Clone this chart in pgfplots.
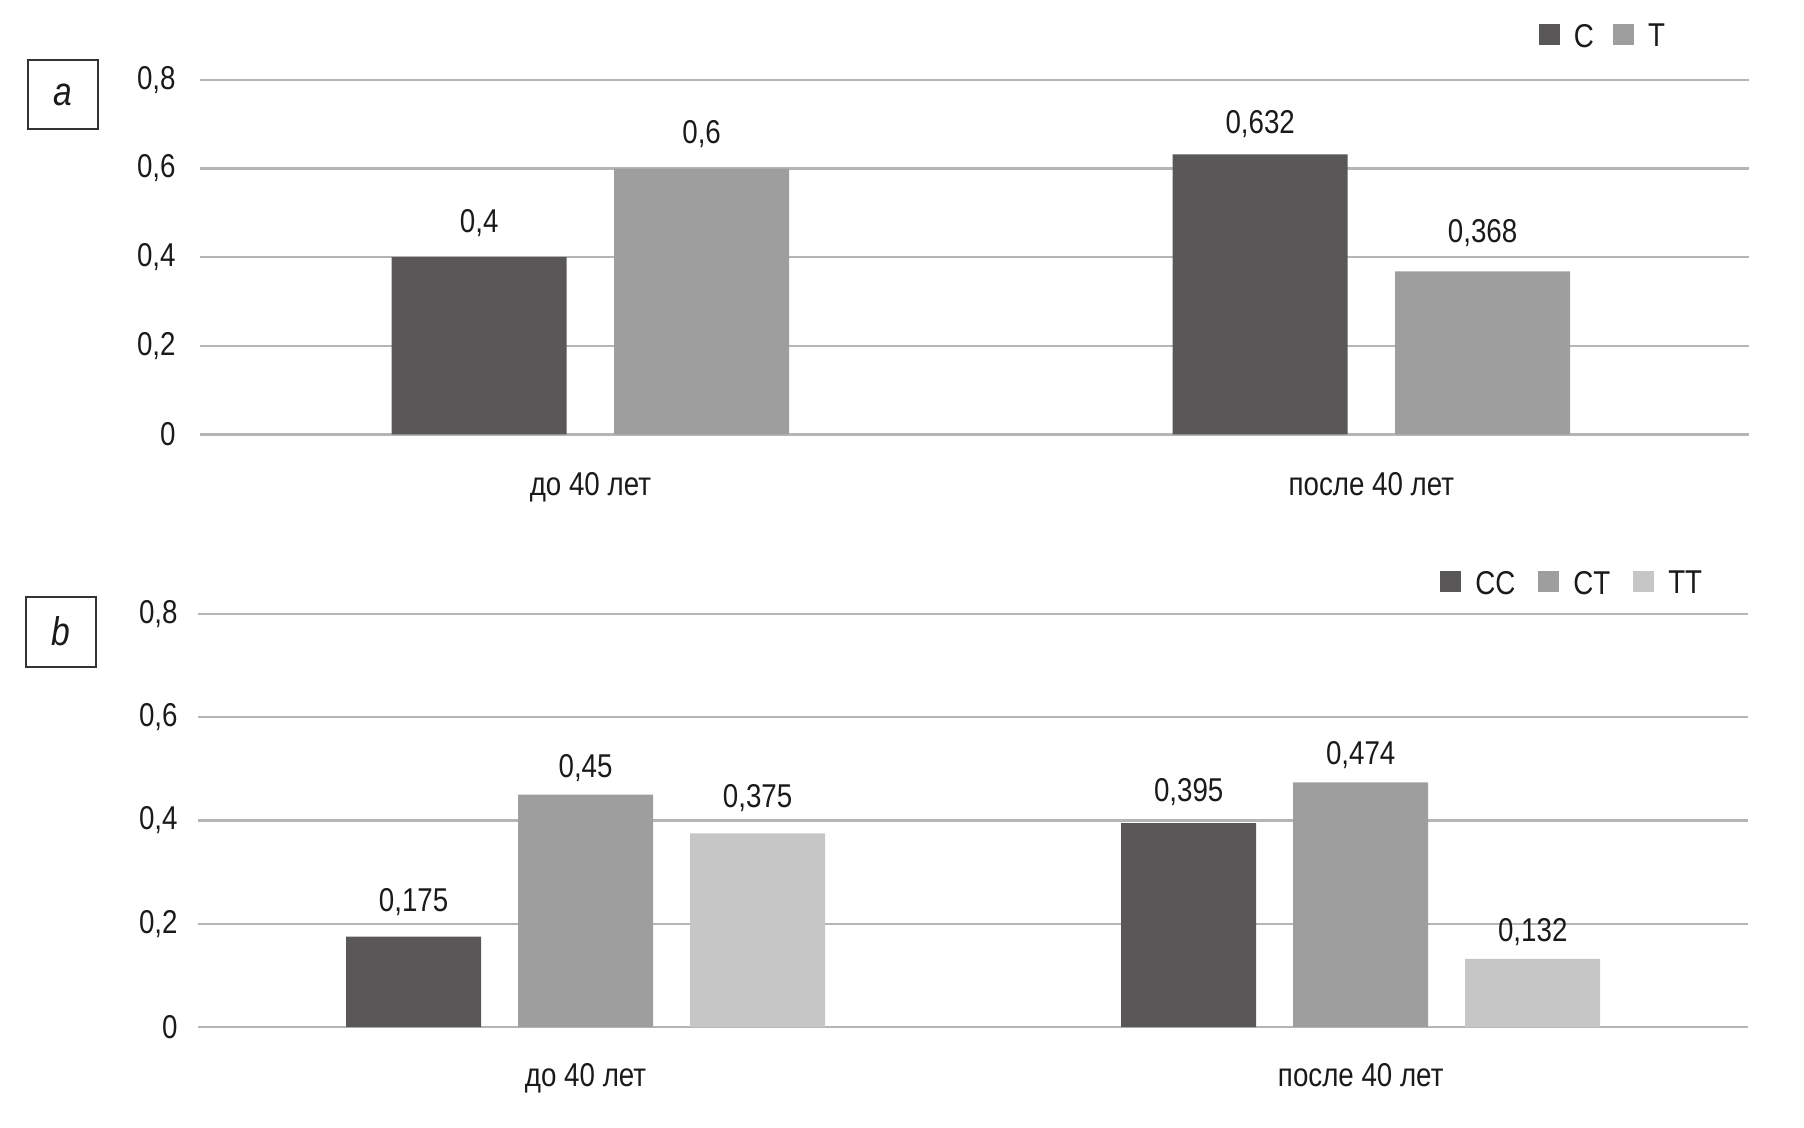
\documentclass[border=0pt]{standalone}
\usepackage{fontspec}
\setmainfont{Liberation Sans}[FakeStretch=0.84]
\usepackage{pgfplots}
\usepackage{pgfplotstable}
\pgfplotsset{compat=1.18}
\definecolor{cdark}{HTML}{595758}
\definecolor{cmid}{HTML}{9E9E9E}
\definecolor{clight}{HTML}{C6C6C6}
\definecolor{cgrid}{HTML}{B5B5B5}
\definecolor{ctext}{HTML}{1A1A1A}
\newcommand\lbl{\fontsize{16.5}{18}\selectfont}

% panel a
\pgfplotstableread{
x y lab off
0 0.4 0,4 12.3
1 0.632 0,632 10.7
}\aC
\pgfplotstableread{
x y lab off
0 0.6 0,6 12.5
1 0.368 0,368 14.5
}\aT
% panel b
\pgfplotstableread{
x y lab off
0 0.175 0,175 12.8
1 0.395 0,395 10.8
}\bCC
\pgfplotstableread{
x y lab off
0 0.45 0,45 8.4
1 0.474 0,474 8.9
}\bCT
\pgfplotstableread{
x y lab off
0 0.375 0,375 12.9
1 0.132 0,132 8.9
}\bTT

\pgfplotsset{
  mybars/.style={
    ybar,
    scale only axis,
    enlargelimits=false,
    ymin=0, ymax=0.8,
    ytick={0,0.2,0.4,0.6,0.8},
    yticklabels={0,{0,2},{0,4},{0,6},{0,8}},
    xtick={0,1},
    xticklabels={до 40 лет,после 40 лет},
    ymajorgrids,
    major grid style={cgrid, line width=1.2pt},
    axis x line*=bottom, axis y line*=left,
    axis line style={draw=none},
    major tick length=0pt,
    tick style={draw=none},
    tick label style={font=\lbl, text=ctext},
    xticklabel style={anchor=base, inner sep=0pt},
    nodes near coords,
    point meta=explicit symbolic,
    visualization depends on={\thisrow{off} \as \myoff},
    every node near coord/.append style={font=\lbl, text=ctext, anchor=base, inner sep=0pt, yshift=\myoff pt},
    every axis plot post/.append style={legend image code/.code={\fill[##1] (0pt,-4.2pt) rectangle (10.5pt,6.3pt);}},
    legend columns=-1,
    legend style={draw=none, fill=none, inner sep=0pt, outer sep=0pt, font=\lbl, text=ctext,
      nodes={inner sep=0pt},
      /tikz/every odd column/.append style={column sep=7pt}},
  },
}

\begin{document}
\begin{tikzpicture}
\useasboundingbox (0pt,0pt) rectangle (902pt,-564pt);

% panel a
\begin{axis}[mybars,
  at={(100pt,-217.15pt)}, anchor=south west,
  width=774.5pt, height=177.15pt,
  xmin=-0.4999, xmax=1.4835,
  bar width=87.5pt,
  yticklabel style={anchor=east, inner sep=0pt, xshift=-12pt},
  xticklabel style={yshift=-30.8pt},
  legend style={at={(0.8644,1.1214)}, anchor=west,
    /tikz/every even column/.append style={column sep=9.6pt}},
]
\addplot[fill=cdark, draw=none, bar shift=-55.6pt] table[x=x, y=y, meta=lab] {\aC};
\addplot[fill=cmid, draw=none, bar shift=55.6pt] table[x=x, y=y, meta=lab] {\aT};
\legend{C,T}
\end{axis}

% panel b
\begin{axis}[mybars,
  at={(99pt,-513.5pt)}, anchor=south west,
  width=775.15pt, height=206.5pt,
  xmin=-0.5, xmax=1.5,
  bar width=67.5pt,
  yticklabel style={anchor=east, inner sep=0pt, xshift=-10pt},
  xticklabel style={yshift=-29.5pt},
  legend style={at={(0.8013,1.0726)}, anchor=west,
    /tikz/every even column/.append style={column sep=11.5pt}},
]
\addplot[fill=cdark, draw=none, bar shift=-86pt] table[x=x, y=y, meta=lab] {\bCC};
\addplot[fill=cmid, draw=none, bar shift=0pt] table[x=x, y=y, meta=lab] {\bCT};
\addplot[fill=clight, draw=none, bar shift=86pt] table[x=x, y=y, meta=lab] {\bTT};
\legend{CC,CT,TT}
\end{axis}

% panel letters
\node[draw=black!80, line width=1pt, minimum width=35pt, minimum height=34.5pt, inner sep=0pt,
  font=\fontsize{20}{20}\selectfont\itshape, text=ctext] at (31.5pt,-47.25pt) {a};
\node[draw=black!80, line width=1pt, minimum width=35pt, minimum height=35pt, inner sep=0pt,
  font=\fontsize{20}{20}\selectfont\itshape, text=ctext] at (30.4pt,-315.85pt) {b};
\end{tikzpicture}
\end{document}
